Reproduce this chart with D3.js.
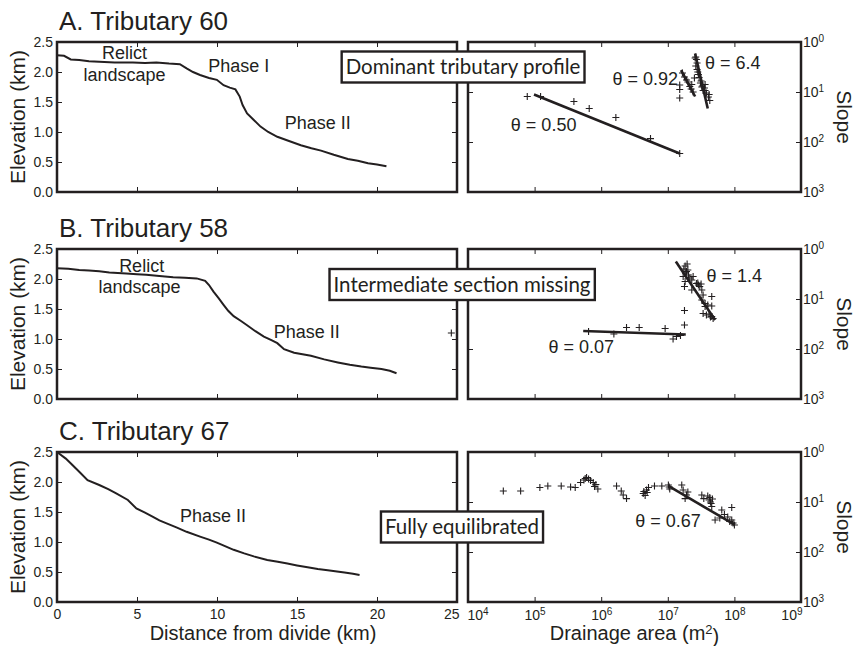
<!DOCTYPE html>
<html>
<head>
<meta charset="utf-8">
<script src="https://cdn.jsdelivr.net/npm/d3@7"></script>
<style>
  body { margin: 0; background: #fff; }
  svg { display: block; font-family: "Liberation Sans", Arial, sans-serif; }
  .frame { fill: none; stroke: #231f20; stroke-width: 2.5; }
  .tick line { stroke: #231f20; stroke-width: 1; }
  .tick text { font-size: 14px; fill: #231f20; }
  .profile { fill: none; stroke: #231f20; stroke-width: 2; }
  .fit { fill: none; stroke: #231f20; stroke-width: 2.6; }
  .pt { fill: none; stroke: #231f20; stroke-width: 1.1; }
  .note { font-size: 18px; fill: #231f20; }
  .box rect { fill: #fff; stroke: #231f20; stroke-width: 2.4; }
  .box text { font-family: Lato, sans-serif; font-size: 20.5px; fill: #231f20; }
</style>
</head>
<body>
<div id="container"></div>
<script>
// ---------------- data ----------------
var titles = ["A. Tributary 60", "B. Tributary 58", "C. Tributary 67"];
var boxLabels = ["Dominant tributary profile", "Intermediate section missing", "Fully equilibrated"];

// long profiles: [distance from divide (km), elevation (km)]
var profile60 = [[0,2.28],[0.44,2.27],[0.86,2.21],[1.39,2.2],[2.0,2.18],[2.64,2.17],[3.6,2.16],[4.74,2.16],
  [5.5,2.15],[6.21,2.16],[7.0,2.14],[7.68,2.13],[8.1,2.06],[8.5,2.0],[8.94,1.95],[9.5,1.9],[9.99,1.87],
  [10.41,1.78],[10.8,1.74],[11.15,1.71],[11.42,1.59],[11.6,1.45],[11.88,1.31],[12.3,1.2],[12.72,1.09],
  [13.2,1.0],[13.77,0.92],[14.5,0.85],[15.24,0.78],[15.9,0.73],[16.5,0.69],[17.3,0.62],[18.18,0.55],
  [18.8,0.52],[19.44,0.48],[20.0,0.46],[20.59,0.43]];
var profile58 = [[0,2.18],[0.7,2.17],[1.39,2.15],[2.0,2.14],[2.64,2.13],[3.27,2.11],[4.33,2.09],[5.0,2.08],
  [5.58,2.07],[6.4,2.05],[7.26,2.03],[8.0,2.02],[8.73,2.01],[9.26,1.97],[9.5,1.9],[9.78,1.79],[10.1,1.68],
  [10.41,1.57],[10.7,1.47],[11.04,1.38],[11.5,1.3],[11.88,1.23],[12.4,1.13],[12.93,1.04],[13.4,0.98],
  [13.77,0.93],[14.19,0.83],[14.82,0.77],[15.87,0.72],[16.7,0.66],[17.55,0.61],[18.3,0.57],[19.02,0.54],
  [19.6,0.52],[20.28,0.5],[20.8,0.47],[21.22,0.43]];
var profile67 = [[0,2.5],[0.55,2.39],[0.9,2.3],[1.39,2.17],[1.91,2.03],[2.64,1.95],[3.2,1.88],[3.7,1.81],
  [4.43,1.7],[4.96,1.56],[5.5,1.49],[6.0,1.42],[6.4,1.36],[6.85,1.31],[7.5,1.24],[8.1,1.17],[8.94,1.09],
  [9.5,1.04],[9.99,0.99],[10.5,0.93],[11.04,0.87],[11.7,0.81],[12.3,0.76],[13.14,0.7],[13.8,0.67],
  [14.4,0.64],[15.0,0.61],[15.66,0.58],[16.3,0.55],[16.92,0.53],[17.5,0.51],[17.97,0.49],[18.5,0.47],[18.91,0.45]];

// slope-area points: [drainage area (m2), slope]
var slopeArea60 = [[7.76e4,0.0813],[1.23e5,0.0813],[3.89e5,0.0646],[6.61e5,0.0468],[1.66e6,0.0309],
  [5.5e6,0.0117],[1.51e7,0.00589],[1.51e7,0.138],[1.51e7,0.112],[1.51e7,0.0759],[1.91e7,0.174],
  [2.14e7,0.129],[2.24e7,0.115],[2.4e7,0.1],[2.57e7,0.479],[2.69e7,0.447],[2.75e7,0.38],[2.75e7,0.282],
  [2.88e7,0.224],[2.95e7,0.195],[3.09e7,0.151],[3.24e7,0.126],[3.39e7,0.107],[3.63e7,0.141],[3.63e7,0.107],
  [4.07e7,0.0794],[4.27e7,0.0676],[1.66e7,0.24],[1.78e7,0.2],[2.0e7,0.158],[2.63e7,0.331],[2.82e7,0.251],
  [3.16e7,0.166],[3.31e7,0.132],[3.55e7,0.12],[3.8e7,0.0955],[4.17e7,0.0891],[2.51e7,0.191],[2.29e7,0.141],
  [2.63e7,0.501]];
var slopeArea58 = [[5.62e3,0.0209],[6.46e5,0.0224],[1.55e6,0.02],[2.4e6,0.0269],[3.72e6,0.0269],[9.12e6,0.0257],
  [1.2e7,0.0158],[1.35e7,0.0178],[1.55e7,0.0186],[1.78e7,0.0302],[1.78e7,0.0589],[1.82e7,0.457],[1.91e7,0.355],
  [1.7e7,0.282],[1.82e7,0.224],[1.78e7,0.178],[2.04e7,0.302],[2.29e7,0.24],[2.4e7,0.282],[2.29e7,0.151],
  [2.88e7,0.191],[3.02e7,0.178],[3.24e7,0.151],[3.39e7,0.12],[3.24e7,0.0955],[3.63e7,0.0813],[3.63e7,0.0708],
  [3.39e7,0.0513],[3.8e7,0.0479],[4.57e7,0.0447],[4.79e7,0.0407],[4.57e7,0.112],[4.57e7,0.0724],[2.69e7,0.204],
  [1.74e7,0.398],[2.0e7,0.38],[1.86e7,0.331],[2.14e7,0.263],[2.82e7,0.209],[3.16e7,0.2],[3.98e7,0.0759],
  [4.17e7,0.0501],[4.37e7,0.0437],[1.95e7,0.501]];
var slopeArea67 = [[3.39e4,0.166],[6.17e4,0.166],[1.2e5,0.195],[1.58e5,0.209],[2.51e5,0.209],[3.47e5,0.2],
  [4.07e5,0.195],[4.9e5,0.245],[5.5e5,0.275],[6.03e5,0.309],[6.46e5,0.288],[7.59e5,0.245],[7.94e5,0.204],
  [8.91e5,0.182],[1.7e6,0.209],[2.0e6,0.166],[2.14e6,0.138],[2.4e6,0.117],[4.27e6,0.148],[4.57e6,0.135],
  [4.79e6,0.174],[5.13e6,0.195],[6.31e6,0.209],[8.13e6,0.209],[1.02e7,0.219],[1.07e7,0.182],[1.62e7,0.219],
  [1.7e7,0.174],[1.82e7,0.117],[1.91e7,0.138],[3.24e7,0.138],[3.47e7,0.117],[4.27e7,0.123],[4.47e7,0.0933],
  [4.57e7,0.0813],[6.46e7,0.0692],[5.13e7,0.0437],[6.03e7,0.0479],[9.12e7,0.0776],[9.12e7,0.0437],
  [1.0e8,0.0347],[8.51e7,0.0407],[5.75e5,0.295],[6.92e5,0.269],[8.32e5,0.224],[4.37e6,0.162],[4.9e6,0.155],
  [1.05e7,0.2],[3.98e7,0.132],[4.17e7,0.11],[4.37e7,0.1],[4.68e7,0.115],[9.55e7,0.038],[7.94e7,0.0501],
  [2.0e7,0.158],[7.08e7,0.0562]];

// fitted power-law segments: endpoints [area, slope]
var fits60 = [[[9.8e4,0.0891],[1.51e7,0.00589]], [[1.58e7,0.275],[2.57e7,0.0813]], [[2.57e7,0.589],[3.98e7,0.0468]]];
var fits58 = [[[5.37e5,0.0229],[1.86e7,0.0195]], [[1.32e7,0.562],[5.13e7,0.038]]];
var fits67 = [[[1.02e7,0.209],[1.02e8,0.0347]]];

// concavity labels: [area, slope, text]
var theta60 = [[4.4e4,0.0166,"θ = 0.50"],[1.48e6,0.138,"θ = 0.92"],[3.63e7,0.288,"θ = 6.4"]];
var theta58 = [[3.8e7,0.219,"θ = 1.4"],[1.62e5,0.00832,"θ = 0.07"]];
var theta67 = [[3.24e6,0.0316,"θ = 0.67"]];

// profile notes: [distance, elevation, text, anchor]
var notes60 = [[4.22,2.22,"Relict","middle"],[4.22,1.85,"landscape","middle"],[9.45,2.0,"Phase I","start"],[14.23,1.05,"Phase II","start"]];
var notes58 = [[5.29,2.12,"Relict","middle"],[5.16,1.77,"landscape","middle"],[13.54,1.02,"Phase II","start"]];
var notes67 = [[7.68,1.33,"Phase II","start"]];

var distTicks = [0, 5, 10, 15, 20, 25];
var elevTicks = [0, 0.5, 1.0, 1.5, 2.0, 2.5];
var areaTicks = [1e4, 1e5, 1e6, 1e7, 1e8, 1e9];
var slopeTicks = [1, 0.1, 0.01, 0.001];

// ---------------- layout ----------------
var width = 856, height = 646;
var rowTops = [42, 249, 452];
var panelH = 150;
var leftX = [57, 457], rightX = [468, 801];

var rows = [
  {profile: profile60, pts: slopeArea60, fits: fits60, thetas: theta60, notes: notes60},
  {profile: profile58, pts: slopeArea58, fits: fits58, thetas: theta58, notes: notes58},
  {profile: profile67, pts: slopeArea67, fits: fits67, thetas: theta67, notes: notes67}
];

var svg = d3.select("#container").append("svg")
    .attr("width", width)
    .attr("height", height);

svg.append("rect").attr("width", width).attr("height", height).attr("fill", "#fff");

var plus = "M-3.5,0H3.5M0,-3.5V3.5";
var pow10 = function(v) { return Math.round(-Math.log10(v)); };

function supLabel(sel, exp) {
  sel.text("10").append("tspan")
      .attr("dy", "-0.45em")
      .style("font-size", "10px")
      .text(exp);
}

rows.forEach(function(r, i) {
  var top = rowTops[i], bot = top + panelH;
  var last = i === rows.length - 1;

  var x = d3.scaleLinear().domain([0, 25]).range(leftX);
  var y = d3.scaleLinear().domain([0, 2.5]).range([bot, top]);
  var xa = d3.scaleLog().domain([1e4, 1e9]).range(rightX);
  var ys = d3.scaleLog().domain([1, 0.001]).range([top, bot]);

  // title
  svg.append("text")
      .attr("x", leftX[0] + 2)
      .attr("y", top - 12)
      .style("font-size", "26px")
      .style("fill", "#231f20")
      .text(titles[i]);

  //---------------- left panel: elevation profile ----------------
  var gl = svg.append("g");
  gl.append("g")
      .attr("transform", "translate(" + leftX[0] + ",0)")
      .call(d3.axisLeft(y).tickValues(elevTicks).tickFormat(d3.format(".1f"))
          .tickSizeInner(-5).tickSizeOuter(0).tickPadding(4))
      .call(g => g.select(".domain").remove());
  gl.append("g")
      .attr("transform", "translate(" + leftX[1] + ",0)")
      .call(d3.axisRight(y).tickValues(elevTicks.slice(1, -1)).tickFormat("")
          .tickSizeInner(-5).tickSizeOuter(0))
      .call(g => g.select(".domain").remove());
  gl.append("g")
      .attr("transform", "translate(0," + top + ")")
      .call(d3.axisTop(x).tickValues(distTicks.slice(1, -1)).tickFormat("")
          .tickSizeInner(-5).tickSizeOuter(0))
      .call(g => g.select(".domain").remove());
  var gx = gl.append("g")
      .attr("transform", "translate(0," + bot + ")")
      .call(d3.axisBottom(x).tickValues(last ? distTicks : distTicks.slice(1, -1))
          .tickFormat(last ? d3.format("d") : "")
          .tickSizeInner(-5).tickSizeOuter(0).tickPadding(7))
      .call(g => g.select(".domain").remove());
  // keep the end label clear of the neighbouring panel
  gx.selectAll(".tick text").filter(d => d === 25).attr("text-anchor", "end").attr("x", 2);

  gl.append("text")
      .attr("transform", "translate(25," + (top + panelH / 2) + ") rotate(-90)")
      .attr("text-anchor", "middle")
      .style("font-size", "21px")
      .style("fill", "#231f20")
      .text("Elevation (km)");

  gl.append("path")
      .attr("class", "profile")
      .attr("d", d3.line().x(d => x(d[0])).y(d => y(d[1]))(r.profile));

  gl.selectAll(".note")
      .data(r.notes)
      .enter().append("text")
      .attr("class", "note")
      .attr("x", d => x(d[0]))
      .attr("y", d => y(d[1]))
      .attr("text-anchor", d => d[3])
      .text(d => d[2]);

  gl.append("rect").attr("class", "frame")
      .attr("x", leftX[0]).attr("y", top)
      .attr("width", leftX[1] - leftX[0]).attr("height", panelH);

  //---------------- right panel: slope-area ----------------
  var gr = svg.append("g");
  gr.append("g")
      .attr("transform", "translate(" + rightX[0] + ",0)")
      .call(d3.axisLeft(ys).tickValues(slopeTicks.slice(1, -1)).tickFormat("")
          .tickSizeInner(-5).tickSizeOuter(0))
      .call(g => g.select(".domain").remove());
  gr.append("g")
      .attr("transform", "translate(" + rightX[1] + ",0)")
      .call(d3.axisRight(ys).tickValues(slopeTicks)
          .tickSizeInner(-5).tickSizeOuter(0).tickPadding(2))
      .call(g => g.select(".domain").remove())
      .call(g => g.selectAll(".tick text").each(function(d) { supLabel(d3.select(this), pow10(d)); }))
      .call(g => g.selectAll(".tick line").filter(d => d === 1 || d === 0.001).remove());
  gr.append("g")
      .attr("transform", "translate(0," + top + ")")
      .call(d3.axisTop(xa).tickValues(areaTicks.slice(1, -1)).tickFormat("")
          .tickSizeInner(-5).tickSizeOuter(0))
      .call(g => g.select(".domain").remove());
  var gb = gr.append("g")
      .attr("transform", "translate(0," + bot + ")")
      .call(d3.axisBottom(xa).tickValues(last ? areaTicks : areaTicks.slice(1, -1))
          .tickSizeInner(-5).tickSizeOuter(0).tickPadding(8))
      .call(g => g.select(".domain").remove());
  if (last) {
    gb.selectAll(".tick text").each(function(d) { supLabel(d3.select(this), Math.round(Math.log10(d))); });
    gb.selectAll(".tick text").filter(d => d === 1e4).attr("text-anchor", "start").attr("x", -1);
    gb.selectAll(".tick text").filter(d => d === 1e9).attr("text-anchor", "end").attr("x", 1);
  } else {
    gb.selectAll(".tick text").remove();
  }

  gr.append("text")
      .attr("transform", "translate(837," + (top + panelH / 2) + ") rotate(90)")
      .attr("text-anchor", "middle")
      .style("font-size", "21px")
      .style("fill", "#231f20")
      .text("Slope");

  gr.selectAll(".pt")
      .data(r.pts)
      .enter().append("path")
      .attr("class", "pt")
      .attr("transform", d => "translate(" + xa(d[0]) + "," + ys(d[1]) + ")")
      .attr("d", plus);

  gr.selectAll(".fit")
      .data(r.fits)
      .enter().append("path")
      .attr("class", "fit")
      .attr("d", d3.line().x(d => xa(d[0])).y(d => ys(d[1])));

  gr.selectAll(".theta")
      .data(r.thetas)
      .enter().append("text")
      .attr("class", "note")
      .attr("x", d => xa(d[0]))
      .attr("y", d => ys(d[1]))
      .text(d => d[2]);

  gr.append("rect").attr("class", "frame")
      .attr("x", rightX[0]).attr("y", top)
      .attr("width", rightX[1] - rightX[0]).attr("height", panelH);
});

// bottom axis titles
svg.append("text")
    .attr("x", (leftX[0] + leftX[1]) / 2 + 6)
    .attr("y", 640)
    .attr("text-anchor", "middle")
    .style("font-size", "20px")
    .style("fill", "#231f20")
    .text("Distance from divide (km)");

var dt = svg.append("text")
    .attr("x", (rightX[0] + rightX[1]) / 2)
    .attr("y", 640)
    .attr("text-anchor", "middle")
    .style("font-size", "20px")
    .style("fill", "#231f20")
    .text("Drainage area (m");
dt.append("tspan").attr("dy", "-0.45em").style("font-size", "13px").text("2");
dt.append("tspan").attr("dy", "0.45em").text(")");

// boxed labels spanning the panel gap
var boxCenters = [[463, 67], [462, 284.5], [462, 527]];
boxLabels.forEach(function(t, i) {
  var g = svg.append("g").attr("class", "box");
  var rect = g.append("rect");
  var txt = g.append("text")
      .attr("x", boxCenters[i][0])
      .attr("y", boxCenters[i][1])
      .attr("text-anchor", "middle")
      .attr("dy", "0.35em")
      .text(t);
  var bb = txt.node().getBBox();
  rect.attr("x", bb.x - 4).attr("y", boxCenters[i][1] - 15.5)
      .attr("width", bb.width + 8).attr("height", 31);
});
</script>
</body>
</html>
